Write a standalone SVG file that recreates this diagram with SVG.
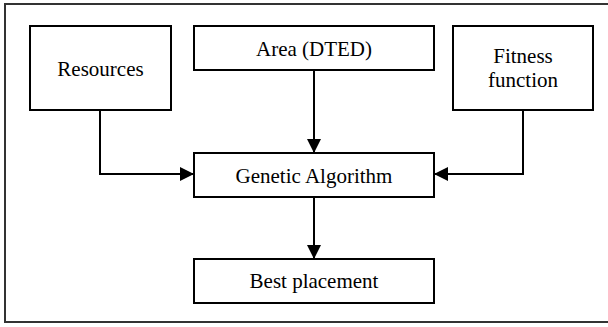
<svg xmlns="http://www.w3.org/2000/svg" width="608" height="327" viewBox="0 0 608 327">
<defs>
<marker id="ah" viewBox="0 0 14 14" refX="14" refY="7" markerWidth="14" markerHeight="14" markerUnits="userSpaceOnUse" orient="auto">
<path d="M0,0 L14,7 L0,14 Z" fill="#000"/>
</marker>
</defs>
<style>
.box{fill:#fff;stroke:#000;stroke-width:2}
.frame{fill:none;stroke:#333;stroke-width:2}
.lbl{font-family:"Liberation Serif","Times New Roman",serif;font-size:21px;fill:#000;text-anchor:middle}
.conn{fill:none;stroke:#000;stroke-width:2}
</style>
<rect class="frame" x="5" y="4" width="610" height="318"/>
<g id="connectors">
<polyline class="conn" points="100,110 100,174 194,174" marker-end="url(#ah)"/>
<polyline class="conn" points="314,70 314,153" marker-end="url(#ah)"/>
<polyline class="conn" points="523,110 523,174 434,174" marker-end="url(#ah)"/>
<polyline class="conn" points="314,197 314,259" marker-end="url(#ah)"/>
</g>
<g id="resources">
<rect class="box" x="30" y="26" width="141" height="84"/>
<text class="lbl" x="100.5" y="76">Resources</text>
</g>
<g id="area">
<rect class="box" x="194" y="26" width="240" height="44"/>
<text class="lbl" x="314" y="56">Area (DTED)</text>
</g>
<g id="fitness">
<rect class="box" x="453" y="26" width="140" height="84"/>
<text class="lbl" x="523" y="63">Fitness</text>
<text class="lbl" x="523" y="87">function</text>
</g>
<g id="ga">
<rect class="box" x="194" y="153" width="240" height="44"/>
<text class="lbl" x="314" y="183">Genetic Algorithm</text>
</g>
<g id="best">
<rect class="box" x="194" y="259" width="240" height="44"/>
<text class="lbl" x="314" y="288">Best placement</text>
</g>
</svg>
